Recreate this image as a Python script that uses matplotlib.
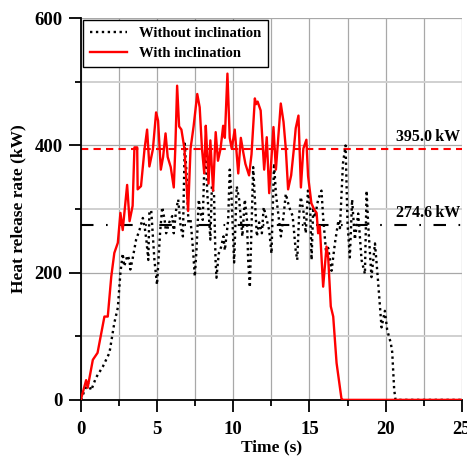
import matplotlib
matplotlib.use("Agg")
import matplotlib.pyplot as plt
from matplotlib.ticker import MultipleLocator

# heat release rate, with inclination (red)
t_with = [0, 0.35, 0.45, 0.79, 1.1, 1.55, 1.77, 2.0, 2.2, 2.43, 2.6, 2.75, 3.04, 3.2, 3.4,
          3.52, 3.7, 3.73, 3.95, 4.18, 4.35, 4.5, 4.73, 4.94, 5.07, 5.25, 5.4, 5.56, 5.7,
          5.9, 6.1, 6.2, 6.32, 6.45, 6.6, 6.8, 7.04, 7.2, 7.4, 7.64, 7.8, 7.95, 8.1, 8.2,
          8.28, 8.38, 8.5, 8.68, 8.85, 9.0, 9.17, 9.34, 9.45, 9.62, 9.77, 9.9, 10.1, 10.33,
          10.5, 10.66, 10.8, 11.04, 11.2, 11.42, 11.5, 11.6, 11.8, 12.03, 12.2, 12.36, 12.64,
          12.8, 13.12, 13.3, 13.45, 13.6, 13.8, 13.98, 14.1, 14.28, 14.44, 14.6, 14.8, 14.91,
          15.13, 15.3, 15.47, 15.57, 15.68, 15.9, 16.12, 16.23, 16.4, 16.56, 16.78, 17.1,
          17.2, 25]
hrr_with = [0, 31, 19, 63, 74, 131, 131, 194, 231, 247, 294, 267, 338, 281, 305,
            397, 397, 331, 336, 394, 425, 367, 394, 452, 439, 362, 382, 419, 382,
            366, 334, 395, 494, 430, 425, 395, 297, 395, 430, 481, 460, 395, 356, 431,
            393, 340, 408, 329, 421, 376, 395, 431, 412, 513, 412, 395, 425, 356,
            412, 389, 371, 353, 386, 474, 465, 469, 455, 362, 413, 325, 429,
            362, 466, 437, 395, 331, 353, 395, 427, 447, 334, 395, 409, 352,
            309, 300, 294, 262, 273, 178, 241, 224, 147, 131, 58, 2,
            0, 0]

# heat release rate, without inclination (black dotted)
t_without = [0, 0.46, 0.68, 1.0, 1.44, 1.88, 2.2, 2.43, 2.6, 2.75, 2.85, 3.06, 3.2, 3.25,
             3.4, 3.63, 3.85, 4.07, 4.2, 4.3, 4.43, 4.5, 4.62, 4.72, 4.83, 5.0, 5.2, 5.34,
             5.5, 5.6, 5.8, 6.0, 6.1, 6.25, 6.39, 6.55, 6.7, 6.82, 6.95, 7.06, 7.2, 7.35,
             7.48, 7.6, 7.74, 7.9, 8.0, 8.1, 8.18, 8.3, 8.42, 8.5, 8.6, 8.74, 8.84, 8.9,
             9.05, 9.2, 9.36, 9.45, 9.67, 9.77, 9.88, 10.06, 10.23, 10.39, 10.6, 10.76,
             10.9, 10.98, 11.09, 11.2, 11.31, 11.42, 11.55, 11.7, 11.88, 12.0, 12.2, 12.36,
             12.51, 12.68, 12.8, 12.97, 13.13, 13.3, 13.45, 13.67, 13.9, 14.1, 14.2, 14.32,
             14.43, 14.6, 14.76, 14.9, 15.05, 15.14, 15.25, 15.36, 15.57, 15.79, 15.9,
             16.12, 16.23, 16.45, 16.67, 16.9, 17.0, 17.2, 17.37, 17.5, 17.65, 17.8, 17.98,
             18.2, 18.42, 18.64, 18.75, 18.86, 19.07, 19.3, 19.5, 19.73, 19.95, 20.1, 20.34,
             20.43, 20.56, 20.65, 25]
hrr_without = [0, 27, 15, 35, 52, 74, 121, 145, 200, 230, 210, 227, 220, 205,
               222, 252, 267, 286, 270, 252, 220, 296, 298, 262, 220, 181, 262, 303,
               283, 262, 279, 289, 262, 298, 315, 273, 257, 403, 350, 279, 283, 240,
               194, 240, 315, 289, 283, 362, 403, 324, 283, 252, 336, 324, 220, 192,
               230, 240, 257, 235, 283, 362, 324, 216, 336, 315, 257, 315,
               283, 220, 177, 273, 366, 315, 257, 279, 262, 303, 283, 267,
               230, 372, 324, 289, 257, 289, 324, 303, 289, 235, 220, 289,
               319, 298, 262, 329, 300, 220, 303, 287, 315, 329, 287,
               224, 239, 203, 246, 282, 270, 372, 400, 277, 224, 315, 252,
               293, 220, 198, 329, 273, 193, 246, 187, 114, 140, 110, 89,
               75, 16, 0, 0]

avg_with = 395.0
avg_without = 274.6

plt.rcParams['font.family'] = ['Liberation Serif', 'DejaVu Serif']
plt.rcParams['font.weight'] = 'bold'

fig = plt.figure(figsize=(4.67, 4.57), dpi=100)
ax = fig.add_axes([0.173, 0.125, 0.816, 0.835])

ax.axhline(avg_with, color='red', lw=1.5, linestyle=(0, (3.5, 2.5)), zorder=2)
ax.axhline(avg_without, color='black', lw=1.5, linestyle=(0, (6, 6, 0.8, 6)), zorder=2)

ax.plot(t_without, hrr_without, color='black', lw=1.7, linestyle=(0, (1, 1.5)),
        label='Without inclination', zorder=3)
ax.plot(t_with, hrr_with, color='red', lw=1.7, label='With inclination', zorder=4)

ax.text(24.9, avg_with + 6, '395.0\u2009kW', ha='right', va='bottom', fontsize=11.5,
        fontweight='bold')
ax.text(24.9, avg_without + 6, '274.6\u2009kW', ha='right', va='bottom', fontsize=11.5,
        fontweight='bold')

ax.set_xlim(0, 25)
ax.set_ylim(0, 600)
ax.xaxis.set_major_locator(MultipleLocator(5))
ax.xaxis.set_minor_locator(MultipleLocator(2.5))
ax.yaxis.set_major_locator(MultipleLocator(200))
ax.yaxis.set_minor_locator(MultipleLocator(100))

ax.xaxis.grid(True, which='both', color='#a8a8a8', lw=0.9)
ax.yaxis.grid(True, which='major', color='#a8a8a8', lw=0.9)
ax.yaxis.grid(True, which='minor', color='#d0d0d0', lw=1.4)
ax.set_axisbelow(True)

for s in ['top', 'right']:
    ax.spines[s].set_visible(False)
ax.spines['left'].set_linewidth(1.3)
ax.spines['bottom'].set_linewidth(1.3)

ax.tick_params(which='major', direction='out', length=8.5, width=1.3, labelsize=13.5)
ax.tick_params(which='minor', direction='out', length=4.5, width=1.3)
ax.tick_params(axis='x', which='major', pad=7)
ax.tick_params(axis='y', which='major', pad=4.5)

ax.set_xlabel('Time (s)', fontsize=12.5, fontweight='bold', labelpad=1)
ax.set_ylabel('Heat release rate (kW)', fontsize=12.5, fontweight='bold', labelpad=6)

leg = ax.legend(loc='upper left', fontsize=10.5, frameon=True, fancybox=False,
                edgecolor='black', framealpha=1, borderaxespad=0.15, handlelength=2.6,
                borderpad=0.45, labelspacing=0.45)
leg.get_frame().set_linewidth(1.0)

plt.savefig('out.png')
plt.close()
